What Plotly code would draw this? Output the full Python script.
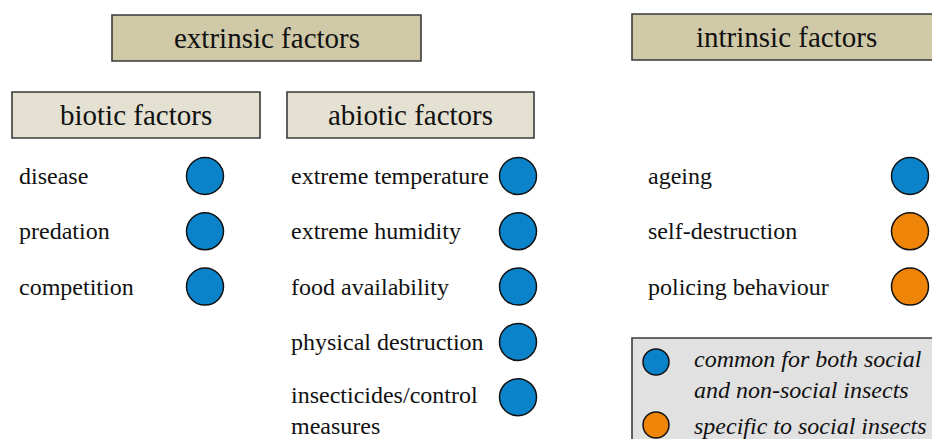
import plotly.graph_objects as go

# ---------------- data ----------------
group_titles = ["extrinsic factors", "intrinsic factors"]
sub_titles = ["biotic factors", "abiotic factors"]
biotic_factors = ["disease", "predation", "competition"]
biotic_types = ["common", "common", "common"]
abiotic_factors = ["extreme temperature", "extreme humidity", "food availability",
                   "physical destruction", "insecticides/control<br>measures"]
abiotic_types = ["common", "common", "common", "common", "common"]
intrinsic_factors = ["ageing", "self-destruction", "policing behaviour"]
intrinsic_types = ["common", "social", "social"]
legend_types = ["common", "social"]
legend_labels = ["common for both social<br>and non-social insects", "specific to social insects"]

# ---------------- styles / layout constants ----------------
W, H = 932, 439
FONT = "Liberation Serif, Times New Roman, serif"
TEXT_COLOR = "#111111"
COLORS = {"common": "#0A83CA", "social": "#EE8508"}
HEAD_FILL = "#CFC9A8"
SUB_FILL = "#E4E1D2"
LEGEND_FILL = "#E1E1E1"
BORDER = "#3a3a3a"

ROW0, ROW_STEP = 176, 55.3
columns = [
    dict(items=biotic_factors, types=biotic_types, text_x=17, dot_x=205),
    dict(items=abiotic_factors, types=abiotic_types, text_x=289, dot_x=518),
    dict(items=intrinsic_factors, types=intrinsic_types, text_x=646, dot_x=910),
]
head_boxes = [(112, 15, 421, 61), (632, 14, 940, 60)]
sub_boxes = [(12, 92, 260, 138), (287, 92, 534, 138)]
legend_box = (632, 338, 945, 450)
legend_dot_x, legend_text_x = 656, 692
legend_rows = [362, 425]
legend_text_y = [374, 426]

fig = go.Figure()
shapes, annotations = [], []

for (x0, y0, x1, y1), title in zip(head_boxes, group_titles):
    shapes.append(dict(type="rect", x0=x0, y0=y0, x1=x1, y1=y1, xref="x", yref="y",
                       fillcolor=HEAD_FILL, line=dict(color=BORDER, width=1.6), layer="below"))
    annotations.append(dict(x=(x0 + x1) / 2, y=(y0 + y1) / 2, text=title, showarrow=False,
                            xanchor="center", yanchor="middle",
                            font=dict(family=FONT, size=29, color=TEXT_COLOR)))

for (x0, y0, x1, y1), title in zip(sub_boxes, sub_titles):
    shapes.append(dict(type="rect", x0=x0, y0=y0, x1=x1, y1=y1, xref="x", yref="y",
                       fillcolor=SUB_FILL, line=dict(color=BORDER, width=1.6), layer="below"))
    annotations.append(dict(x=(x0 + x1) / 2, y=(y0 + y1) / 2, text=title, showarrow=False,
                            xanchor="center", yanchor="middle",
                            font=dict(family=FONT, size=29, color=TEXT_COLOR)))

for col in columns:
    ys = [ROW0 + ROW_STEP * i for i in range(len(col["items"]))]
    fig.add_trace(go.Scatter(
        x=[col["dot_x"]] * len(ys), y=ys, mode="markers", hoverinfo="skip",
        marker=dict(size=37, color=[COLORS[t] for t in col["types"]],
                    line=dict(color="#111111", width=1.5)),
        showlegend=False))
    for y, label in zip(ys, col["items"]):
        nlines = label.count("<br>") + 1
        annotations.append(dict(x=col["text_x"], y=y + 13.5 * (nlines - 1), text=label,
                                showarrow=False, xanchor="left", yanchor="middle", align="left",
                                font=dict(family=FONT, size=24, color=TEXT_COLOR)))

x0, y0, x1, y1 = legend_box
shapes.append(dict(type="rect", x0=x0, y0=y0, x1=x1, y1=y1, xref="x", yref="y",
                   fillcolor=LEGEND_FILL, line=dict(color=BORDER, width=1.6), layer="below"))
fig.add_trace(go.Scatter(
    x=[legend_dot_x] * len(legend_rows), y=legend_rows, mode="markers", hoverinfo="skip",
    marker=dict(size=26, color=[COLORS[t] for t in legend_types],
                line=dict(color="#111111", width=1.5)),
    showlegend=False))
for y, label in zip(legend_text_y, legend_labels):
    annotations.append(dict(x=legend_text_x, y=y, text="<i>" + label + "</i>", showarrow=False,
                            xanchor="left", yanchor="middle", align="left",
                            font=dict(family=FONT, size=24, color=TEXT_COLOR)))

fig.update_layout(
    width=W, height=H, margin=dict(l=0, r=0, t=0, b=0),
    paper_bgcolor="white", plot_bgcolor="white",
    xaxis=dict(range=[0, W], visible=False, fixedrange=True),
    yaxis=dict(range=[H, 0], visible=False, fixedrange=True),
    shapes=shapes, annotations=annotations, showlegend=False,
)
fig.write_html("out.html", config={"displayModeBar": False},
               post_script="document.body.style.margin='0';document.body.style.overflow='hidden';")
